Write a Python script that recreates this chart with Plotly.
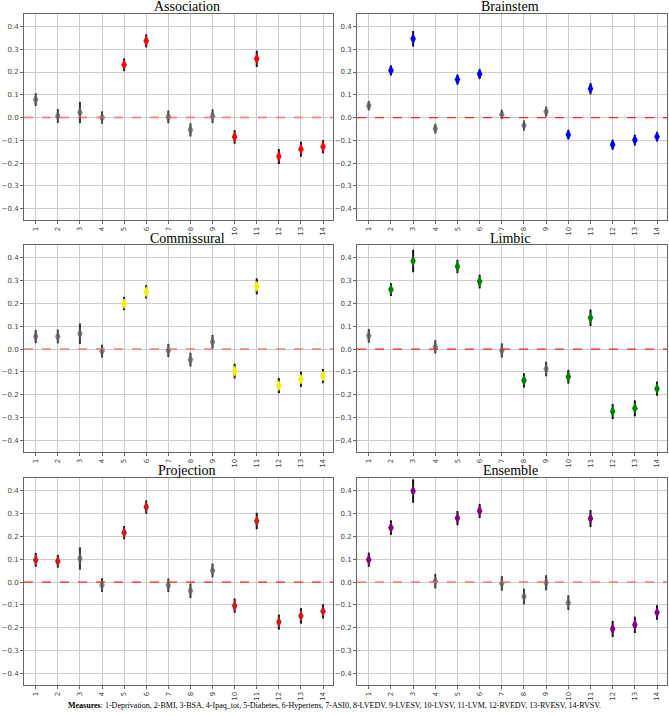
import plotly.graph_objects as go

# medidas 1..14
medidas = [str(i) for i in range(1, 15)]

association = [0.079, 0.007, 0.022, 0.000, 0.232, 0.337, 0.003, -0.054, 0.006, -0.085, 0.258, -0.171, -0.139, -0.128]
association_err = [0.028, 0.030, 0.047, 0.027, 0.028, 0.029, 0.028, 0.029, 0.030, 0.030, 0.036, 0.033, 0.033, 0.029]
association_sig = [0, 0, 0, 0, 1, 1, 0, 0, 0, 1, 1, 1, 1, 1]

brainstem = [0.052, 0.207, 0.346, -0.049, 0.167, 0.191, 0.014, -0.035, 0.026, -0.075, 0.127, -0.119, -0.099, -0.084]
brainstem_err = [0.020, 0.022, 0.034, 0.020, 0.022, 0.021, 0.020, 0.022, 0.022, 0.020, 0.025, 0.022, 0.024, 0.020]
brainstem_sig = [0, 1, 1, 0, 1, 1, 0, 0, 0, 1, 1, 1, 1, 1]

commissural = [0.055, 0.055, 0.067, -0.009, 0.199, 0.250, -0.006, -0.046, 0.032, -0.096, 0.274, -0.160, -0.132, -0.118]
commissural_err = [0.029, 0.030, 0.045, 0.028, 0.029, 0.029, 0.029, 0.030, 0.030, 0.032, 0.035, 0.033, 0.033, 0.031]
commissural_sig = [0, 0, 0, 0, 1, 1, 0, 0, 0, 1, 1, 1, 1, 1]

limbic = [0.058, 0.260, 0.385, 0.010, 0.361, 0.295, -0.006, -0.137, -0.087, -0.121, 0.137, -0.273, -0.259, -0.173]
limbic_err = [0.030, 0.028, 0.049, 0.029, 0.029, 0.030, 0.031, 0.031, 0.032, 0.030, 0.036, 0.033, 0.035, 0.031]
limbic_sig = [0, 1, 1, 0, 1, 1, 0, 1, 0, 1, 1, 1, 1, 1]

projection = [0.097, 0.091, 0.103, -0.013, 0.216, 0.328, -0.014, -0.038, 0.051, -0.103, 0.267, -0.175, -0.148, -0.128]
projection_err = [0.030, 0.028, 0.049, 0.030, 0.029, 0.029, 0.030, 0.032, 0.030, 0.031, 0.036, 0.033, 0.034, 0.031]
projection_sig = [1, 1, 0, 0, 1, 1, 0, 0, 0, 1, 1, 1, 1, 1]

ensemble = [0.098, 0.238, 0.398, 0.004, 0.280, 0.311, -0.006, -0.063, -0.003, -0.090, 0.278, -0.205, -0.187, -0.133]
ensemble_err = [0.031, 0.032, 0.051, 0.032, 0.031, 0.031, 0.032, 0.034, 0.033, 0.032, 0.037, 0.035, 0.036, 0.032]
ensemble_sig = [1, 1, 1, 0, 1, 1, 0, 0, 0, 0, 1, 1, 1, 1]

paneles = [
    ("Association", association, association_err, association_sig, "#ff0000", "rgba(255,90,90,0.6)", 2),
    ("Brainstem", brainstem, brainstem_err, brainstem_sig, "#0000ee", "#ff2020", 1.2),
    ("Commissural", commissural, commissural_err, commissural_sig, "#f2f200", "rgba(255,90,90,0.6)", 2),
    ("Limbic", limbic, limbic_err, limbic_sig, "#008000", "#ff2020", 1.2),
    ("Projection", projection, projection_err, projection_sig, "#c41e1e", "#ff2020", 1.2),
    ("Ensemble", ensemble, ensemble_err, ensemble_sig, "#800080", "rgba(255,90,90,0.6)", 2),
]

W, H = 669, 716
# posiciones de los paneles en pixeles (izq, der, arriba, abajo)
cols_px = [(24, 333), (357, 667)]
rows_px = [(14, 220), (245, 452), (478, 685)]
titulo_x = [187, 510]

fig = go.Figure()

for i, (titulo, vals, errs, sig, color, zcolor, zwidth) in enumerate(paneles):
    r, c = divmod(i, 2)
    ax = "" if i == 0 else str(i + 1)
    x0, x1 = cols_px[c]
    t, b = rows_px[r]
    xd = [x0 / W, x1 / W]
    yd = [1 - b / H, 1 - t / H]

    for grupo in (0, 1):
        xs = [m for m, s in zip(medidas, sig) if s == grupo]
        ys = [v for v, s in zip(vals, sig) if s == grupo]
        es = [e for e, s in zip(errs, sig) if s == grupo]
        fig.add_trace(go.Scatter(
            x=xs, y=ys, mode="markers",
            xaxis="x" + ax, yaxis="y" + ax,
            error_y=dict(type="data", array=es, visible=True, color="#111111" if grupo else "#333333",
                         thickness=2, width=0),
            marker=dict(symbol="diamond-tall", size=8,
                        color=color if grupo else "rgba(100,100,100,0.75)",
                        line=dict(width=0)),
            showlegend=False, hoverinfo="x+y",
        ))

    fig.layout["xaxis" + ax] = dict(
        domain=xd, anchor="y" + ax, type="category", categoryorder="array", categoryarray=medidas,
        range=[-0.53, 13.45], tickangle=-90, tickfont=dict(size=7, color="#444", family="DejaVu Sans"),
        showgrid=True, gridcolor="#cccccc", gridwidth=1, showline=True, linecolor="#666", linewidth=1,
        mirror=True, ticks="outside", ticklen=3, tickcolor="#666", zeroline=False, automargin=False,
    )
    fig.layout["yaxis" + ax] = dict(
        domain=yd, anchor="x" + ax, range=[-0.45, 0.455], tickvals=[-0.4, -0.3, -0.2, -0.1, 0, 0.1, 0.2, 0.3, 0.4],
        ticktext=["\u22120.4", "\u22120.3", "\u22120.2", "\u22120.1", "0.0", "0.1", "0.2", "0.3", "0.4"],
        tickfont=dict(size=7, color="#444", family="DejaVu Sans"),
        showgrid=True, gridcolor="#cccccc", gridwidth=1, showline=True, linecolor="#666", linewidth=1,
        mirror=True, ticks="outside", ticklen=3, tickcolor="#666", zeroline=False, automargin=False,
    )
    # linea de cero
    fig.add_shape(type="line", xref="x" + ax + " domain", yref="y" + ax, x0=0, x1=1, y0=0, y1=0,
                  line=dict(color=zcolor, width=zwidth, dash="dash"), layer="above")
    fig.add_annotation(text=titulo, x=titulo_x[c] / W, y=1 - (t - 7) / H, xref="paper", yref="paper",
                       xanchor="center", yanchor="middle", showarrow=False,
                       font=dict(family="Liberation Serif", size=14, color="black"))

leyenda = ("<b>Measures</b>: 1-Deprivation, 2-BMI, 3-BSA, 4-Ipaq_tot, 5-Diabetes, 6-Hypertens, 7-ASI0, "
           "8-LVEDV, 9-LVESV, 10-LVSV, 11-LVM, 12-RVEDV, 13-RVESV, 14-RVSV.")
fig.add_annotation(text=leyenda, x=0.5, y=1 - 705 / H, xref="paper", yref="paper", xanchor="center",
                   yanchor="middle", showarrow=False, font=dict(family="Liberation Serif", size=8, color="black"))

fig.update_layout(width=W, height=H, margin=dict(l=0, r=0, t=0, b=0, autoexpand=False),
                  paper_bgcolor="white", plot_bgcolor="white")

# quitar el margen por defecto del body para que la figura ocupe la ventana
fig.write_html("out.html", config={"displayModeBar": False},
               post_script="document.body.style.margin='0';")
